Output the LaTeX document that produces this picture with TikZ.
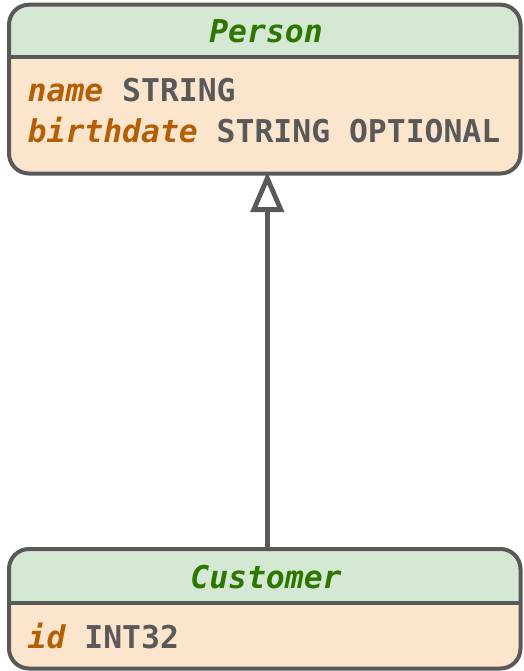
\documentclass[tikz,border=0pt]{standalone}
\usepackage{fontspec}
\newfontfamily\monof{DejaVu Sans Mono}[BoldFont={DejaVu Sans Mono Bold},BoldItalicFont={DejaVu Sans Mono Bold Oblique},ItalicFont={DejaVu Sans Mono Oblique}]
\usetikzlibrary{arrows.meta}
\definecolor{edgegray}{HTML}{595959}
\definecolor{hdrfill}{HTML}{D5E8D4}
\definecolor{bodyfill}{HTML}{FCE5CD}
\definecolor{titlegreen}{HTML}{2D7600}
\definecolor{fieldbrown}{HTML}{B45F06}
\tikzset{
  classbox/.style={draw=edgegray, line width=4pt, rounded corners=20pt, inner sep=0pt,
     minimum width=511.5pt, minimum height=#1},
  txt/.style={inner sep=0pt, font=\monof\bfseries\fontsize{31.4}{36}\selectfont, text=edgegray},
  titletxt/.style={txt, anchor=base, text=titlegreen, font=\monof\bfseries\itshape\fontsize{31.4}{36}\selectfont},
  rowtxt/.style={txt, anchor=base west},
  sepline/.style={draw=edgegray, line width=4pt},
  inherit/.style={draw=edgegray, line width=4.8pt, -{Triangle[open,length=40pt,width=33pt]}}
}
\newcommand{\fname}[1]{{\itshape\color{fieldbrown}#1}}
\begin{document}
\begin{tikzpicture}[x=1pt,y=-1pt]
\useasboundingbox (0,0) rectangle (523,671);
% Person
\fill[bodyfill, rounded corners=20pt] (9,4.7) rectangle (520.5,173.5);
\begin{scope}
\clip[rounded corners=20pt] (9,4.7) rectangle (520.5,173.5);
\fill[hdrfill] (9,4.7) rectangle (520.5,57);
\end{scope}
\node[classbox=168.8pt] (person) at (264.75,89.1) {};
\draw[sepline] (9,57) -- (520.5,57);
\node[titletxt] (ptitle) at (266,43) {Person};
\node[rowtxt] (prow1) at (27.5,102) {\fname{name} STRING};
\node[rowtxt] (prow2) at (27.5,143) {\fname{birthdate} STRING OPTIONAL};
% Customer
\fill[bodyfill, rounded corners=20pt] (9,549) rectangle (520.5,668.5);
\begin{scope}
\clip[rounded corners=20pt] (9,549) rectangle (520.5,668.5);
\fill[hdrfill] (9,549) rectangle (520.5,603);
\end{scope}
\node[classbox=119.5pt] (customer) at (264.75,608.75) {};
\draw[sepline] (9,603) -- (520.5,603);
\node[titletxt] (ctitle) at (266,588) {Customer};
\node[rowtxt] (crow1) at (27.5,648) {\fname{id} INT32};
% inheritance
\coordinate (stembase) at (267.3,547);
\coordinate (stemtip) at (267.3,172);
\draw[inherit] (stembase) -- (stemtip);
\end{tikzpicture}
\end{document}
